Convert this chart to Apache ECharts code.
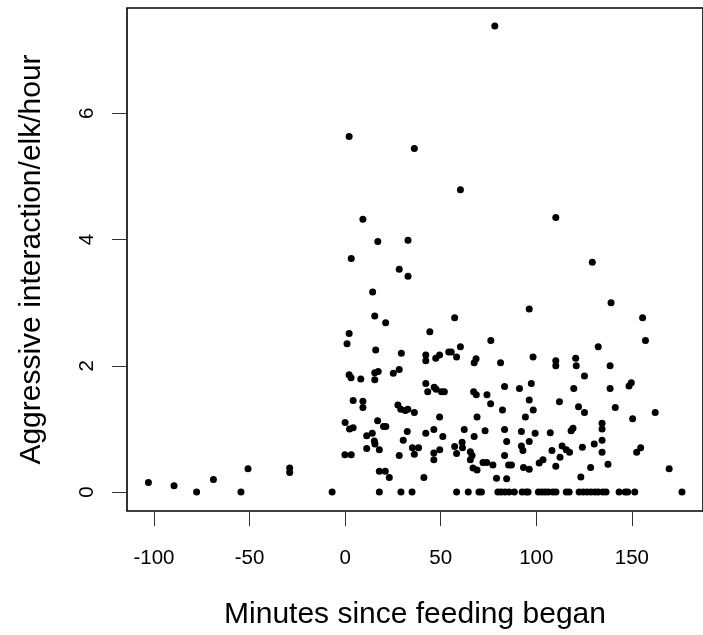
<!DOCTYPE html>
<html>
<head>
<meta charset="utf-8">
<script src="https://cdn.jsdelivr.net/npm/echarts@6/dist/echarts.min.js"></script>
<style>html,body{margin:0;padding:0;background:#fff}#c{width:703px;height:635px}</style>
</head>
<body>
<div id="c"></div>
<script>
// Observations with a non-zero rate: minutes since feeding began / aggressive interactions per elk per hour
const minutes = [
  -102.9, -89.5, -68.9, -50.8, -29.0, -29.0,
  2.1, 36.2, 9.3, 17.1, 32.9, 3.2, 78.3, 60.3, 110.2, 28.3, 32.9, 14.4, 15.5, 21.2, 2.1, 1.0, 16.0, 29.4, 28.3, 25.2, 2.1, 3.1, 8.2, 15.5, 17.3, 15.5,
  4.2, 9.3, 9.3, 27.6, 29.1, 31.5, 32.8, 36.2,
  0.0, 2.3, 4.2, 17.0, 20.1, 21.3, 11.3, 14.2, 15.3, 15.6, 11.3, 17.9, 32.5, 30.4, 35.2, 36.2, 28.3, 38.4, -0.1, 3.2, 17.9, 21.0, 23.1,
  129.3, 139.1, 96.3, 57.3, 155.6, 44.3, 157.1, 76.2, 132.4,
  42.2, 42.2, 47.4, 49.4, 54.2, 55.5, 58.3, 60.3, 68.5, 67.5, 81.3, 98.3, 110.2, 110.2, 120.6, 120.9, 125.2, 138.6,
  42.2, 43.2, 46.6, 47.6, 50.4, 51.9, 67.2, 68.6, 74.2, 76.1, 83.4, 91.2, 97.4, 96.3, 98.4, 94.3, 82.3, 69.0, 49.4,
  112.1, 119.6, 122.1, 125.2, 138.6, 141.3, 148.5, 149.7, 162.2, 150.4,
  134.4, 134.4, 134.4, 134.4, 119.2, 118.2, 107.3, 99.4, 92.2, 83.4, 84.5, 73.2, 67.5, 62.3, 51.1, 46.4, 42.2,
  46.4, 46.4, 49.5, 57.3, 58.3, 61.2, 61.4, 65.5, 66.4, 65.5, 66.9, 69.0, 72.1, 74.1, 77.3, 79.2, 84.5, 83.4, 85.5, 87.0,
  92.2, 93.0, 96.3, 93.3, 96.3, 101.5, 103.5, 108.2, 110.2, 112.4, 113.5, 115.7, 117.4, 124.1, 130.3, 123.3, 128.4, 137.5,
  152.5, 154.6, 169.5, 41.2
];
const rates = [
  0.15, 0.10, 0.20, 0.37, 0.38, 0.31,
  5.63, 5.44, 4.32, 3.97, 3.99, 3.70, 7.38, 4.79, 4.35, 3.53, 3.42, 3.17, 2.79, 2.68, 2.51, 2.35, 2.25, 2.20, 1.94, 1.88, 1.86, 1.81, 1.79, 1.89, 1.91, 1.78,
  1.45, 1.44, 1.34, 1.38, 1.31, 1.29, 1.31, 1.26,
  1.10, 1.00, 1.02, 1.13, 1.04, 1.04, 0.89, 0.93, 0.81, 0.76, 0.69, 0.67, 0.96, 0.82, 0.70, 0.60, 0.58, 0.70, 0.59, 0.59, 0.33, 0.33, 0.23,
  3.64, 3.00, 2.90, 2.76, 2.76, 2.54, 2.40, 2.40, 2.30,
  2.17, 2.08, 2.12, 2.17, 2.22, 2.22, 2.14, 2.30, 2.11, 2.05, 2.05, 2.14, 2.08, 2.00, 2.12, 2.00, 1.84, 2.00,
  1.72, 1.59, 1.66, 1.63, 1.59, 1.59, 1.59, 1.54, 1.54, 1.40, 1.67, 1.64, 1.72, 1.46, 1.30, 1.19, 1.30, 1.19, 1.19,
  1.43, 1.64, 1.35, 1.26, 1.64, 1.34, 1.68, 1.73, 1.26, 1.16,
  1.09, 1.00, 0.82, 0.63, 1.01, 0.97, 0.94, 0.93, 0.96, 0.99, 0.80, 0.97, 0.88, 0.99, 0.88, 0.99, 0.93,
  0.62, 0.51, 0.67, 0.72, 0.61, 0.79, 0.70, 0.64, 0.58, 0.51, 0.38, 0.35, 0.47, 0.47, 0.43, 0.22, 0.21, 0.58, 0.43, 0.43,
  0.73, 0.66, 0.80, 0.39, 0.36, 0.46, 0.51, 0.66, 0.41, 0.55, 0.73, 0.67, 0.63, 0.71, 0.76, 0.24, 0.39, 0.44,
  0.63, 0.70, 0.37, 0.23
];
// Observations with zero aggressive interactions
const zeroMinutes = [
  -77.7, -54.5, -6.8, 17.9, 29.2, 35.0, 58.3, 64.4, 70.0, 71.3, 79.9, 81.6, 83.6, 85.7, 88.5,
  92.6, 94.7, 95.7, 101.1, 102.9, 104.6, 106.3, 108.7, 110.3, 115.7, 117.2, 122.4, 124.5, 126.5,
  128.6, 130.7, 132.4, 134.8, 136.5, 143.3, 146.5, 147.8, 151.5, 176.2
];
const xTicks = [-100, -50, 0, 50, 100, 150];
const yTicks = [0, 2, 4, 6];
const xTitle = 'Minutes since feeding began';
const yTitle = 'Aggressive interaction/elk/hour';

const data = minutes.map((m, i) => [m, rates[i]]).concat(zeroMinutes.map(m => [m, 0]));

const chart = echarts.init(document.getElementById('c'), null, {renderer: 'canvas'});
const FONT = 'Liberation Sans, Arial, sans-serif';
chart.setOption({
  animation: false,
  backgroundColor: '#fff',
  grid: {left: 127, top: 8, width: 586, height: 504, show: true, borderColor: '#000', borderWidth: 1.6, backgroundColor: 'transparent'},
  xAxis: {
    type: 'value', min: -114.1, max: 187.2,
    name: xTitle, nameLocation: 'middle', nameGap: 89,
    nameTextStyle: {fontSize: 30, color: '#000', fontFamily: FONT},
    axisLine: {show: false, onZero: false},
    splitLine: {show: false},
    axisTick: {show: true, length: 15, customValues: xTicks, lineStyle: {color: '#333', width: 1}},
    axisLabel: {customValues: xTicks, margin: 37, fontSize: 20.5, color: '#000', fontFamily: FONT}
  },
  yAxis: {
    type: 'value', min: -0.3, max: 7.667,
    name: yTitle, nameLocation: 'middle', nameGap: 80,
    nameTextStyle: {fontSize: 30, color: '#000', fontFamily: FONT},
    axisLine: {show: false, onZero: false},
    splitLine: {show: false},
    axisTick: {show: true, length: 15, customValues: yTicks, lineStyle: {color: '#333', width: 1}},
    axisLabel: {customValues: yTicks, margin: 29, rotate: 90, fontSize: 20.5, color: '#000', fontFamily: FONT}
  },
  series: [{
    type: 'scatter', data: data, symbol: 'circle', symbolSize: 7,
    itemStyle: {color: '#000', opacity: 1}, clip: false
  }]
});
</script>
</body>
</html>
